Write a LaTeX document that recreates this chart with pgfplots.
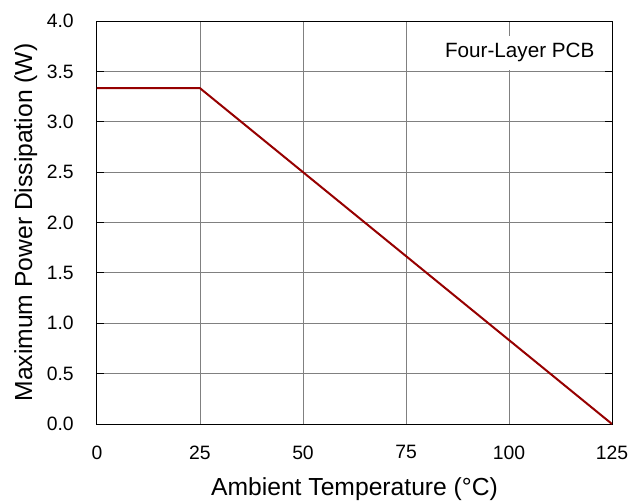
\documentclass[border=0pt]{standalone}
\usepackage{fontspec}
\setmainfont{Liberation Sans}
\usepackage{pgfplots}
\pgfplotsset{compat=1.18}
\definecolor{LineRed}{RGB}{150,0,0}
\definecolor{GridGray}{RGB}{128,128,128}

\begin{document}
\begin{tikzpicture}
  \path[use as bounding box] (-72.75pt,-57.75pt) rectangle (402.75pt,318pt);
  \begin{axis}[
    at={(0,0)}, anchor=south west,
    scale only axis,
    width=386.25pt, height=302.25pt,
    xmin=0, xmax=125, ymin=0, ymax=4,
    xtick={0,25,...,125},
    ytick={0,0.5,...,4},
    grid=major, grid style={GridGray, line width=0.75pt},
    axis line style={black, line width=0.75pt},
    tick style={black, line width=0.75pt},
    tick align=inside, major tick length=5.25pt,
    xtick style={draw=none},
    tick label style={font=\fontsize{14.5}{16}\selectfont, inner sep=0pt},
    /pgf/number format/assume math mode=true,
    yticklabel style={/pgf/number format/fixed, /pgf/number format/fixed zerofill,
      /pgf/number format/precision=1, xshift=-17.25pt},
    xticklabel style={yshift=-16pt},
    xlabel={Ambient Temperature (°C)},
    ylabel={Maximum Power Dissipation (W)},
    label style={font=\fontsize{18.5}{20}\selectfont, inner sep=0pt},
    xlabel style={at={(axis description cs:0.5,-0.1775)}, anchor=base},
    ylabel style={at={(axis description cs:-0.1262,0.5)}, anchor=base, rotate=0},
  ]
  \addplot[LineRed, line width=1.5pt] coordinates {(0,3.333) (25,3.333) (125,0)};
  \node[anchor=base east, fill=white, inner xsep=4pt, inner ysep=6pt,
        font=\fontsize{15.5}{17}\selectfont] at (axis description cs:0.9767,0.9082) {Four-Layer PCB};
  \end{axis}
\end{tikzpicture}
\end{document}
